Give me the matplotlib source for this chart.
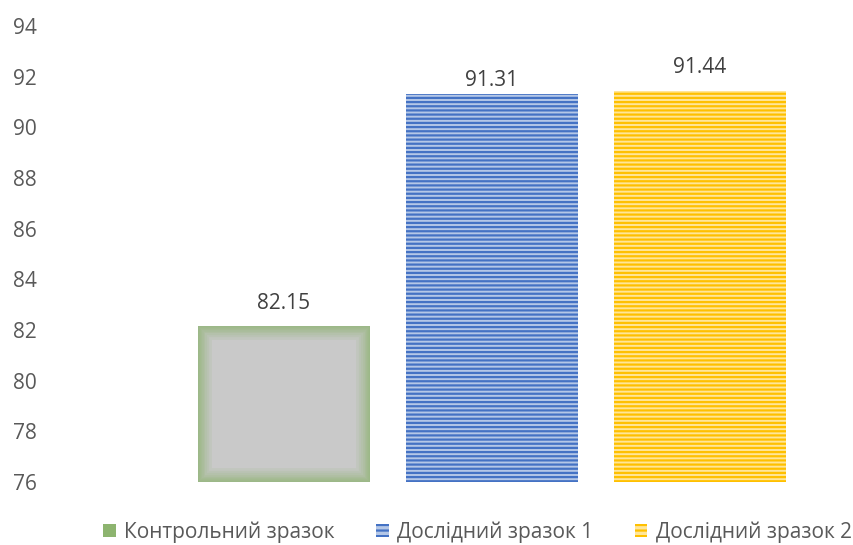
import matplotlib
matplotlib.use('Agg')
import matplotlib.pyplot as plt
from matplotlib.patches import Patch

# DATA
categories = ['Контрольний зразок', 'Дослідний зразок 1', 'Дослідний зразок 2']
values = [82.15, 91.31, 91.44]
y_ticks = [76, 78, 80, 82, 84, 86, 88, 90, 92, 94]

# STYLE
plt.rcParams['font.family'] = ['Open Sans', 'DejaVu Sans']
plt.rcParams['hatch.linewidth'] = 1.6
text_color = '#595959'
fs = 15
label_offsets = [9, 2, 9]  # points above bar top, as placed in the original

fig = plt.figure(figsize=(8.54, 5.45), dpi=100)
ax = fig.add_axes([0.2108, 0.1156, 0.7307, 0.8367])

x = range(len(values))
width = 0.826

# CONTROL BAR: grey fill with soft green inner glow
b0 = ax.bar(x[0], values[0] - 76, bottom=76, width=width, color='#C9C9C9', linewidth=0)[0]
for lw in [1.5, 3, 4.5, 6, 8, 10, 13, 16, 20]:
    g = ax.bar(x[0], values[0] - 76, bottom=76, width=width, facecolor='none',
               edgecolor='#8DB46F', linewidth=lw, alpha=0.12)[0]
    g.set_clip_path(b0)

# STRIPED BARS
ax.bar(x[1], values[1] - 76, bottom=76, width=width, facecolor='#B4C7E7',
       edgecolor='#4472C4', hatch='----', linewidth=0)
ax.bar(x[2], values[2] - 76, bottom=76, width=width, facecolor='#FFE699',
       edgecolor='#FFC000', hatch='----', linewidth=0)

# DATA LABELS
for i, v in enumerate(values):
    ax.annotate(f'{v:.2f}', (i, v), xytext=(0, label_offsets[i]), textcoords='offset points',
                ha='center', va='bottom', fontsize=fs, color='#404040')

ax.set_xlim(-0.5, 2.5)
ax.set_ylim(76, 94)
ax.set_yticks(y_ticks)
ax.set_xticks([])
ax.tick_params(axis='y', length=0, pad=103, labelsize=fs, labelcolor=text_color)
for s in ax.spines.values():
    s.set_visible(False)

# LEGEND
handles = [Patch(facecolor='#8DB46F', edgecolor='#8DB46F', linewidth=0),
           Patch(facecolor='#B4C7E7', edgecolor='#4472C4', hatch='---', linewidth=0),
           Patch(facecolor='#FFE699', edgecolor='#FFC000', hatch='---', linewidth=0)]
fig.legend(handles, categories, loc='lower center', bbox_to_anchor=(0.559, -0.03), ncol=3,
           frameon=False, fontsize=fs, labelcolor=text_color, handlelength=0.6,
           handleheight=0.6, handletextpad=0.4, columnspacing=2.0)

plt.savefig('out.png', dpi=100)
